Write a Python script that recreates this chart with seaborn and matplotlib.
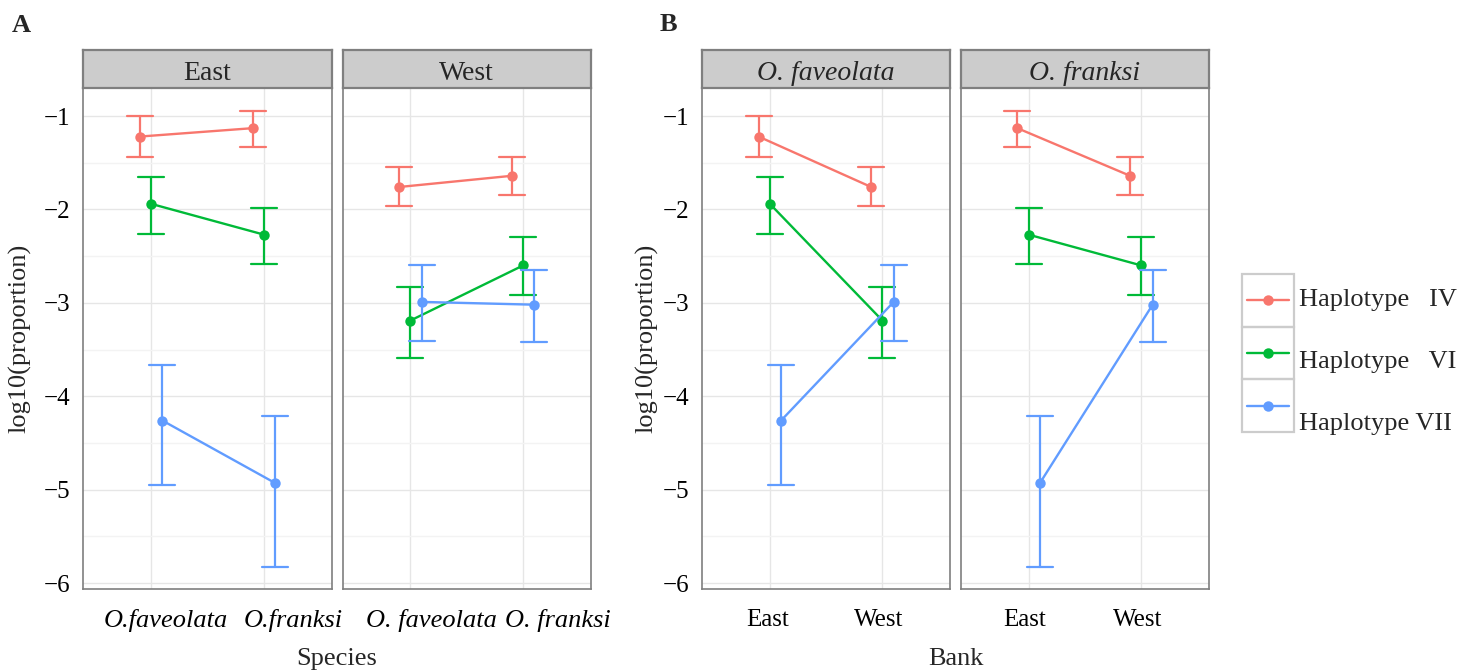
import numpy as np
import pandas as pd
import matplotlib
matplotlib.use("Agg")
import matplotlib.pyplot as plt
import seaborn as sns
from matplotlib.patches import Rectangle
from matplotlib.lines import Line2D
from matplotlib.transforms import ScaledTranslation

# ---------------- data ----------------
haplotypes = ["Haplotype IV", "Haplotype VI", "Haplotype VII"]
legend_labels = ["Haplotype   IV", "Haplotype   VI", "Haplotype VII"]
colors = ["#F8766D", "#00BA38", "#619CFF"]
banks = ["East", "West"]
species = ["O. faveolata", "O. franksi"]
# order of groups: (East, fav), (East, fra), (West, fav), (West, fra)
group_bank = ["East", "East", "West", "West"]
group_species = ["O. faveolata", "O. franksi", "O. faveolata", "O. franksi"]

mean_IV = [-1.22, -1.13, -1.76, -1.64]
mean_VI = [-1.94, -2.27, -3.19, -2.60]
mean_VII = [-4.26, -4.93, -2.99, -3.02]
upper_IV = [-1.00, -0.95, -1.55, -1.44]
upper_VI = [-1.65, -1.99, -2.83, -2.30]
upper_VII = [-3.67, -4.21, -2.60, -2.65]
lower_IV = [-1.44, -1.33, -1.96, -1.85]
lower_VI = [-2.26, -2.58, -3.59, -2.92]
lower_VII = [-4.95, -5.83, -3.41, -3.42]

# tick labels as printed in the figure
a_ticks = {"East": ["O.faveolata", "O.franksi"], "West": ["O. faveolata", "O. franksi"]}
b_ticks = ["East", "West"]
yticks = [-1, -2, -3, -4, -5, -6]

means = [mean_IV, mean_VI, mean_VII]
uppers = [upper_IV, upper_VI, upper_VII]
lowers = [lower_IV, lower_VI, lower_VII]

rows = []
for h, name in enumerate(haplotypes):
    for i in range(4):
        for v in (lowers[h][i], means[h][i], uppers[h][i]):
            rows.append(dict(Bank=group_bank[i], Species=group_species[i],
                             Haplotype=name, value=v))
df = pd.DataFrame(rows)

# ---------------- style ----------------
sns.set_theme(style="white")
plt.rcParams['font.family'] = ['Liberation Serif', 'DejaVu Serif']
plt.rcParams['axes.unicode_minus'] = True

W, H = 1473, 671
fig = plt.figure(figsize=(W / 100, H / 100), dpi=100)


def rect(x0, x1, y0, y1):
    return [x0 / W, 1 - y1 / H, (x1 - x0) / W, (y1 - y0) / H]


PT, PB, ST = 88, 589.3, 50


def span(v):
    return (v.min(), v.max())


def facet(x0, x1, sub, xvar, order, ticklabels, tick_italic, label_shift,
          strip_text, strip_italic, left):
    ax = fig.add_axes(rect(x0, x1, PT, PB))
    sns.pointplot(data=sub, x=xvar, y="value", hue="Haplotype",
                  hue_order=haplotypes, order=order, palette=colors,
                  estimator="median", errorbar=span, dodge=0.2, capsize=0.23,
                  linewidth=1.7, markersize=7.5, markeredgewidth=0,
                  err_kws={"linewidth": 1.6}, legend=False, ax=ax)
    ax.set_xlim(-0.6, 1.6)
    ax.set_ylim(-6.067, -0.70)
    ax.set_yticks(yticks)
    ax.set_yticks(np.arange(-5.5, -0.9, 1.0), minor=True)
    ax.set_xticks([0, 1])
    ax.grid(which="major", color="#E6E6E6", lw=1.0)
    ax.grid(which="minor", axis="y", color="#F3F3F3", lw=1.0)
    ax.set_axisbelow(True)
    for s in ax.spines.values():
        s.set_color("#7F7F7F")
        s.set_linewidth(1.2)
    ax.tick_params(axis="both", which="major", direction="out",
                   width=1.4, color="#333333", labelcolor="black")
    ax.tick_params(axis="y", length=5.8, pad=3.5, labelsize=18)
    ax.tick_params(axis="x", length=6.5, pad=8)
    ax.tick_params(which="minor", length=0)
    ax.set_xticklabels(ticklabels, fontstyle="italic" if tick_italic else "normal",
                       fontsize=19 if tick_italic else 18)
    for lab, off in zip(ax.get_xticklabels(), label_shift):
        lab.set_transform(lab.get_transform() +
                          ScaledTranslation(off / 100, 0, fig.dpi_scale_trans))
    ax.set_xlabel("")
    ax.set_ylabel("")
    if not left:
        ax.tick_params(axis="y", left=False, labelleft=False)
    # strip
    sax = fig.add_axes(rect(x0, x1, ST, PT))
    sax.set_facecolor("#CCCCCC")
    sax.set_xticks([])
    sax.set_yticks([])
    for s in sax.spines.values():
        s.set_color("#7F7F7F")
        s.set_linewidth(1.6)
    sax.text(0.5, 0.22, strip_text, ha="center", va="baseline", fontsize=20,
             fontstyle="italic" if strip_italic else "normal",
             transform=sax.transAxes)
    return ax


# Panel A: x = Species, facet = Bank
facet(83.3, 331.7, df[df.Bank == "East"], "Species", species, a_ticks["East"],
      True, [15, 29], "East", False, True)
facet(342.7, 590.7, df[df.Bank == "West"], "Species", species, a_ticks["West"],
      True, [21, 35], "West", False, False)
# Panel B: x = Bank, facet = Species
facet(702.3, 950, df[df.Species == species[0]], "Bank", banks, b_ticks,
      False, [-2, -4], species[0], True, True)
facet(961, 1209, df[df.Species == species[1]], "Bank", banks, b_ticks,
      False, [-4, -4], species[1], True, False)

# axis titles
fig.text(337 / W, 1 - 665 / H, "Species", ha="center", va="baseline", fontsize=19)
fig.text(955.5 / W, 1 - 665 / H, "Bank", ha="center", va="baseline", fontsize=19)
fig.text(20 / W, 1 - 338 / H, "log10(proportion)", ha="center", va="center",
         rotation=90, fontsize=19)
fig.text(647 / W, 1 - 338 / H, "log10(proportion)", ha="center", va="center",
         rotation=90, fontsize=19)
# panel tags
fig.text(12 / W, 1 - 32 / H, "A", ha="left", va="baseline", fontsize=19,
         fontweight="bold")
fig.text(660 / W, 1 - 31 / H, "B", ha="left", va="baseline", fontsize=19,
         fontweight="bold")

# legend
lax = fig.add_axes(rect(1242, 1473, 274, 432))
lax.set_xlim(0, 231)
lax.set_ylim(158, 0)
lax.axis("off")
for k in range(3):
    y0 = k * 52.7
    lax.add_patch(Rectangle((0, y0), 52, 52.7, fill=False, edgecolor="#CCCCCC",
                            lw=1.6, clip_on=False))
    yc = y0 + 26.3
    lax.add_line(Line2D([5, 47], [yc, yc], color=colors[k], lw=1.7,
                        clip_on=False))
    lax.add_line(Line2D([26], [yc], color=colors[k], marker="o", markersize=7.5,
                        markeredgewidth=0, clip_on=False))
    lax.text(57, [32, 94, 156][k], legend_labels[k], ha="left", va="baseline",
             fontsize=19, clip_on=False)

fig.savefig("out.png", dpi=100)
